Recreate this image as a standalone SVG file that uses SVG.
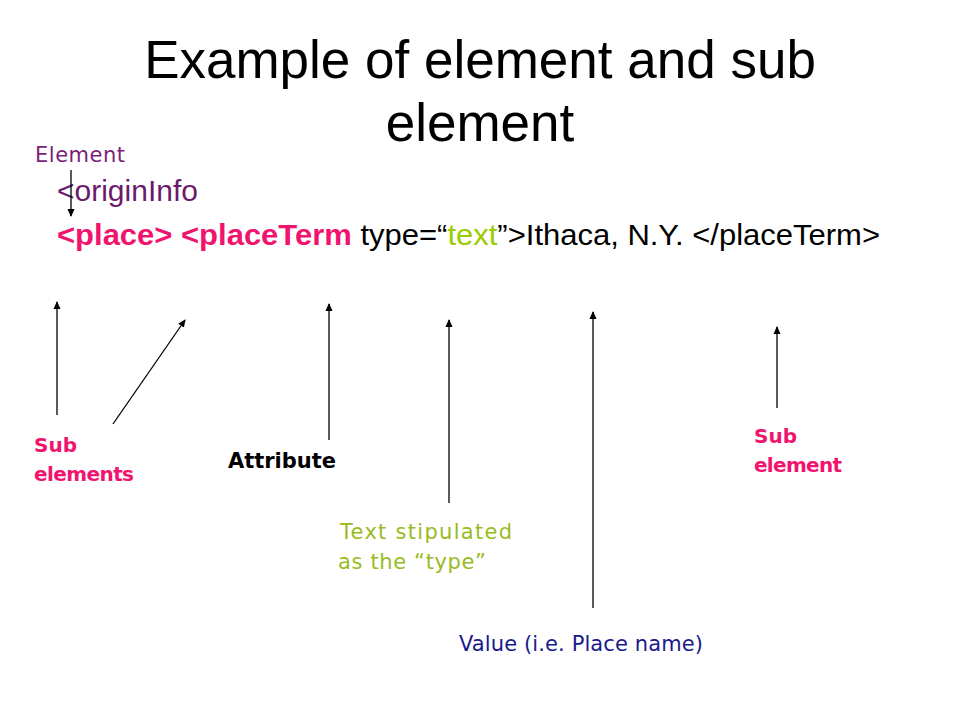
<svg xmlns="http://www.w3.org/2000/svg" width="960" height="720" viewBox="0 0 960 720">
<defs>
<marker id="ah" markerWidth="8" markerHeight="8" refX="7" refY="4" orient="auto" markerUnits="userSpaceOnUse">
<path d="M0,0.5 L8,4 L0,7.5 Z" fill="#000"/>
</marker>
<style>
.title{font-family:"Liberation Sans",Arial,sans-serif;font-size:53px;fill:#000;text-anchor:middle}
.code{font-family:"Liberation Sans",Arial,sans-serif;font-size:30px}
.lbl{font-family:"Comic Sans MS","DejaVu Sans",sans-serif;font-size:21px}
.mag{fill:#f0146e;font-weight:bold;font-size:20px}
.arr{stroke:#000;stroke-width:1.3;fill:none;marker-end:url(#ah)}
</style>
</defs>
<rect width="960" height="720" fill="#fff"/>
<g id="title">
<text class="title" x="480" y="78">Example of element and sub</text>
<text class="title" x="480" y="141">element</text>
</g>
<g id="code">
<text class="code" x="57" y="201" fill="#6b1a6b">&lt;originInfo</text>
<text class="code" x="57" y="245" textLength="823" lengthAdjust="spacingAndGlyphs"><tspan fill="#f0146e" font-weight="bold">&lt;place&gt; &lt;placeTerm</tspan><tspan fill="#000"> type=“</tspan><tspan fill="#99cc00">text</tspan><tspan fill="#000">”&gt;Ithaca, N.Y. &lt;/placeTerm&gt;</tspan></text>
</g>
<g id="connectors">
<line class="arr" x1="71" y1="170" x2="71" y2="216"/>
<line class="arr" x1="57" y1="415" x2="57" y2="302"/>
<line class="arr" x1="113" y1="424" x2="185" y2="320"/>
<line class="arr" x1="329" y1="440" x2="329" y2="304"/>
<line class="arr" x1="449" y1="503" x2="449" y2="320"/>
<line class="arr" x1="593" y1="608" x2="593" y2="312"/>
<line class="arr" x1="777" y1="408" x2="777" y2="327"/>
</g>
<g id="label-element">
<text class="lbl" x="35" y="162" fill="#7a1f7a" textLength="90">Element</text>
</g>
<g id="label-subelements">
<text class="lbl mag" x="34" y="452">Sub</text>
<text class="lbl mag" x="34" y="481" textLength="100">elements</text>
</g>
<g id="label-attribute">
<text class="lbl" x="228" y="468" fill="#000" font-weight="bold" font-size="20" textLength="108">Attribute</text>
</g>
<g id="label-text">
<text class="lbl" x="340" y="539" fill="#99bb22" textLength="172">Text stipulated</text>
<text class="lbl" x="338" y="569" fill="#99bb22" textLength="148">as the “type”</text>
</g>
<g id="label-value">
<text class="lbl" x="459" y="651" fill="#1a1a8c" textLength="244">Value (i.e. Place name)</text>
</g>
<g id="label-subelement">
<text class="lbl mag" x="754" y="443">Sub</text>
<text class="lbl mag" x="754" y="472" textLength="88">element</text>
</g>
</svg>
